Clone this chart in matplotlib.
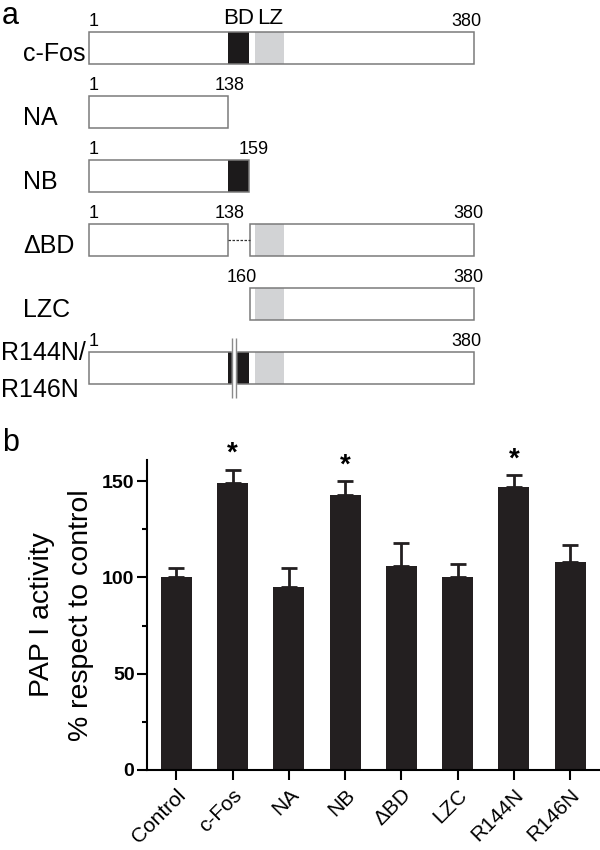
import numpy as np
import matplotlib
matplotlib.use('Agg')
import matplotlib.pyplot as plt
from matplotlib.patches import Rectangle

plt.rcParams['font.family'] = ['Liberation Sans', 'DejaVu Sans']

# panel a: constructs (residue ranges)
constructs = ['c-Fos', 'NA', 'NB', 'ΔBD', 'LZC', 'R144N/\nR146N']
segments = [[(1, 380)], [(1, 138)], [(1, 159)], [(1, 138), (160, 380)], [(160, 380)], [(1, 380)]]
bd_rows = [0, 2, 5]
lz_rows = [0, 3, 4, 5]
bd_domain = (138, 159)
lz_domain = (165, 193)
mutations = (142, 146)
# residue number labels: (row, residue, text, x offset in points)
num_labels = [(0, 1, '1', 0), (0, 380, '380', -5),
              (1, 1, '1', 0), (1, 138, '138', 1),
              (2, 1, '1', 0), (2, 159, '159', 3),
              (3, 1, '1', 0), (3, 138, '138', 1), (3, 380, '380', -4),
              (4, 160, '160', -6), (4, 380, '380', -4),
              (5, 1, '1', 0), (5, 380, '380', -5)]

# panel b: PAP I activity
groups = ['Control', 'c-Fos', 'NA', 'NB', 'ΔBD', 'LZC', 'R144N', 'R146N']
activity = [100, 149, 95, 143, 106, 100, 147, 108]
sem = [5, 7, 10, 7, 12, 7, 6, 9]
significant = [1, 3, 6]

fig = plt.figure(figsize=(6, 8.5), dpi=100)

# ---- panel a ----
axa = fig.add_axes([0, 430 / 850, 1, 420 / 850])
axa.set_xlim(-86.7, 504.4)
axa.set_ylim(5.8125, -0.75)
axa.axis('off')
h = 0.5
edge = '#7a7a7a'
for r, segs in enumerate(segments):
    for (s, e) in segs:
        axa.add_patch(Rectangle((s, r - h / 2), e - s, h, facecolor='white',
                                edgecolor='none', zorder=1))
    if r in lz_rows:
        axa.add_patch(Rectangle((lz_domain[0], r - h / 2), lz_domain[1] - lz_domain[0], h,
                                facecolor='#d2d3d5', edgecolor='none', zorder=2))
    if r in bd_rows:
        axa.add_patch(Rectangle((bd_domain[0], r - h / 2), bd_domain[1] - bd_domain[0], h,
                                facecolor='#1c1a1b', edgecolor='none', zorder=2))
    for (s, e) in segs:
        axa.add_patch(Rectangle((s, r - h / 2), e - s, h, facecolor='none',
                                edgecolor=edge, linewidth=1.1, zorder=3))
    if len(segs) > 1:
        axa.plot([segs[0][1], segs[1][0]], [r, r], color='#333333', lw=0.9,
                 ls=(0, (2, 1.2)), zorder=3)
    name = constructs[r]
    if '\n' in name:
        axa.text(-86, r + 0.05, name, ha='left', va='center', fontsize=18, linespacing=1.7)
    else:
        axa.text(-64, r + 0.09, name, ha='left', va='center', fontsize=18)

# mutation marks R144N/R146N
r = 5
axa.fill_betweenx([r - 0.47, r + 0.47], mutations[0], mutations[1], color='white', zorder=4)
axa.vlines(mutations, r - 0.47, r + 0.47, color='#8a8a8a', lw=1.0, zorder=5)

for (r, res, txt, dx) in num_labels:
    ha = 'left' if txt == '1' else 'center'
    axa.annotate(txt, (res, r - h / 2), xytext=(dx, 1.5), textcoords='offset points',
                 ha=ha, va='bottom', fontsize=13)

axa.annotate('BD', ((bd_domain[0] + bd_domain[1]) / 2, -h / 2), xytext=(0, 2),
             textcoords='offset points', ha='center', va='bottom', fontsize=16)
axa.annotate('LZ', ((lz_domain[0] + lz_domain[1]) / 2, -h / 2), xytext=(0, 2),
             textcoords='offset points', ha='center', va='bottom', fontsize=16)

fig.text(0.003, 0.999, 'a', ha='left', va='top', fontsize=22)
fig.text(0.003, 0.497, 'b', ha='left', va='top', fontsize=22)

# ---- panel b ----
ax = fig.add_axes([147 / 600, 80 / 850, 453 / 600, 310 / 850])
x = np.arange(len(groups))
ax.bar(x, activity, width=0.55, color='#231f20', zorder=2)
ax.errorbar(x, activity, yerr=[np.zeros(len(sem)), sem], fmt='none', ecolor='#231f20',
            elinewidth=2, capsize=6, capthick=2, zorder=1)
for i in significant:
    ax.text(x[i], activity[i] + sem[i] + 1.5, '*', ha='center', va='bottom',
            fontsize=20, fontweight='bold')
ax.set_xlim(-0.52, 7.53)
ax.set_ylim(0, 161)
ax.set_yticks([0, 50, 100, 150])
ax.set_yticks([25, 75, 125], minor=True)
ax.set_xticks(x)
ax.set_xticklabels(groups, rotation=45, ha='right', rotation_mode='anchor', fontsize=15)
for lab in ax.get_yticklabels():
    lab.set_fontweight('bold')
    lab.set_fontsize(14)
ax.tick_params(axis='y', which='major', length=7, width=1.5, pad=2)
ax.tick_params(axis='y', which='minor', length=3.5, width=1.5)
ax.tick_params(axis='x', length=7, width=1.5, pad=4)
for s in ['top', 'right']:
    ax.spines[s].set_visible(False)
for s in ['left', 'bottom']:
    ax.spines[s].set_linewidth(1.5)
ax.set_ylabel('PAP I activity\n% respect to control', fontsize=20.5, linespacing=1.65, labelpad=6)

fig.savefig('out.png', dpi=100)
